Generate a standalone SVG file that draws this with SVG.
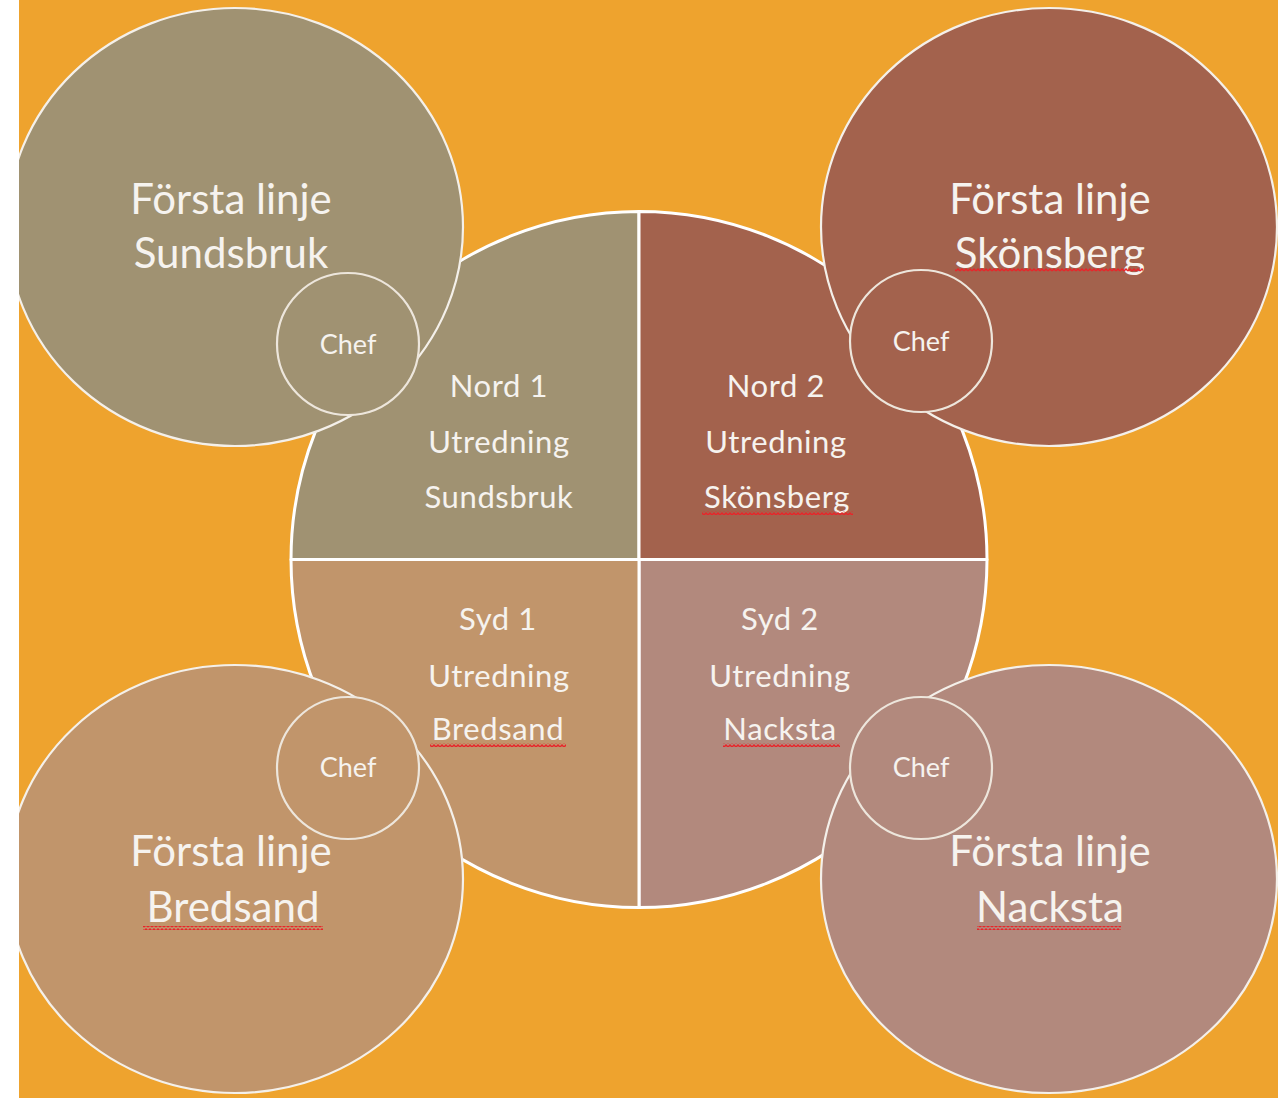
<svg xmlns="http://www.w3.org/2000/svg" width="1278" height="1098" viewBox="0 0 1278 1098">
<style>
.q{stroke:#FFFFFF;stroke-width:3;stroke-linejoin:round}
.big{stroke:#F4F0EA;stroke-width:2.2}
.chef{stroke:#EDE6DC;stroke-width:2.2}
text{font-family:Lato,"Open Sans","Liberation Sans",sans-serif;fill:#F6F3EF;text-anchor:middle}
.t1{font-size:42px}
.t2{font-size:31px;letter-spacing:0.6px}
.t3{font-size:27px}
.olive{fill:#A09272}
.rust{fill:#A3624D}
.tan{fill:#C1956B}
.rose{fill:#B2897D}
</style>
<defs>
<clipPath id="page"><rect x="19" y="0" width="1259" height="1098"/></clipPath>
<pattern id="wavy" x="0" y="0" width="4" height="4" patternUnits="userSpaceOnUse">
<path d="M0,3 L2,1 L4,3" fill="none" stroke="#E8252A" stroke-width="1.5"/>
</pattern>
</defs>
<rect x="0" y="0" width="1278" height="1098" fill="#FFFFFF"/>
<g clip-path="url(#page)">
<rect x="19" y="0" width="1259" height="1098" fill="#EEA32E"/>

<g id="quadrants">
<g id="nord1"><path class="q olive" d="M639,559.5 L291,559.5 A348,348 0 0 1 639,211.5 Z"/></g>
<g id="nord2"><path class="q rust" d="M639,559.5 L639,211.5 A348,348 0 0 1 987,559.5 Z"/></g>
<g id="syd2"><path class="q rose" d="M639,559.5 L987,559.5 A348,348 0 0 1 639,907.5 Z"/></g>
<g id="syd1"><path class="q tan" d="M639,559.5 L639,907.5 A348,348 0 0 1 291,559.5 Z"/></g>
</g>

<g id="forsta-sundsbruk"><ellipse class="big olive" cx="235" cy="227" rx="228" ry="219"/></g>
<g id="forsta-skonsberg"><ellipse class="big rust" cx="1049" cy="227" rx="228" ry="219"/></g>
<g id="forsta-bredsand"><ellipse class="big tan" cx="235" cy="879" rx="228" ry="214"/></g>
<g id="forsta-nacksta"><ellipse class="big rose" cx="1049" cy="879" rx="228" ry="214"/></g>

<g id="chef-nord1"><circle class="chef olive" cx="348" cy="344" r="71"/><text class="t3" x="348" y="354">Chef</text></g>
<g id="chef-nord2"><circle class="chef rust" cx="921" cy="341" r="71"/><text class="t3" x="921" y="351">Chef</text></g>
<g id="chef-syd1"><circle class="chef tan" cx="348" cy="768" r="71"/><text class="t3" x="348" y="777">Chef</text></g>
<g id="chef-syd2"><circle class="chef rose" cx="921" cy="768" r="71"/><text class="t3" x="921" y="777">Chef</text></g>

<g id="labels">
<text class="t1" x="231" y="214">Första linje</text>
<text class="t1" x="231" y="268">Sundsbruk</text>
<text class="t1" x="1050" y="214">Första linje</text>
<text class="t1" x="1050" y="268">Skönsberg</text>
<text class="t1" x="231" y="866">Första linje</text>
<text class="t1" x="233" y="922">Bredsand</text>
<text class="t1" x="1050" y="866">Första linje</text>
<text class="t1" x="1050" y="922">Nacksta</text>

<text class="t2" x="499" y="397">Nord 1</text>
<text class="t2" x="499" y="453">Utredning</text>
<text class="t2" x="499" y="508">Sundsbruk</text>
<text class="t2" x="776" y="397">Nord 2</text>
<text class="t2" x="776" y="453">Utredning</text>
<text class="t2" x="777" y="508">Skönsberg</text>
<text class="t2" x="498" y="630">Syd 1</text>
<text class="t2" x="499" y="687">Utredning</text>
<text class="t2" x="498" y="740">Bredsand</text>
<text class="t2" x="780" y="630">Syd 2</text>
<text class="t2" x="780" y="687">Utredning</text>
<text class="t2" x="780" y="740">Nacksta</text>
</g>

<g id="spellcheck" fill="url(#wavy)">
<rect x="955" y="268" width="188" height="4"/>
<rect x="143" y="926" width="180" height="4"/>
<rect x="977" y="926" width="144" height="4"/>
<rect x="702" y="511" width="151" height="4"/>
<rect x="430" y="743" width="136" height="4"/>
<rect x="723" y="743" width="117" height="4"/>
</g>
</g>
</svg>
